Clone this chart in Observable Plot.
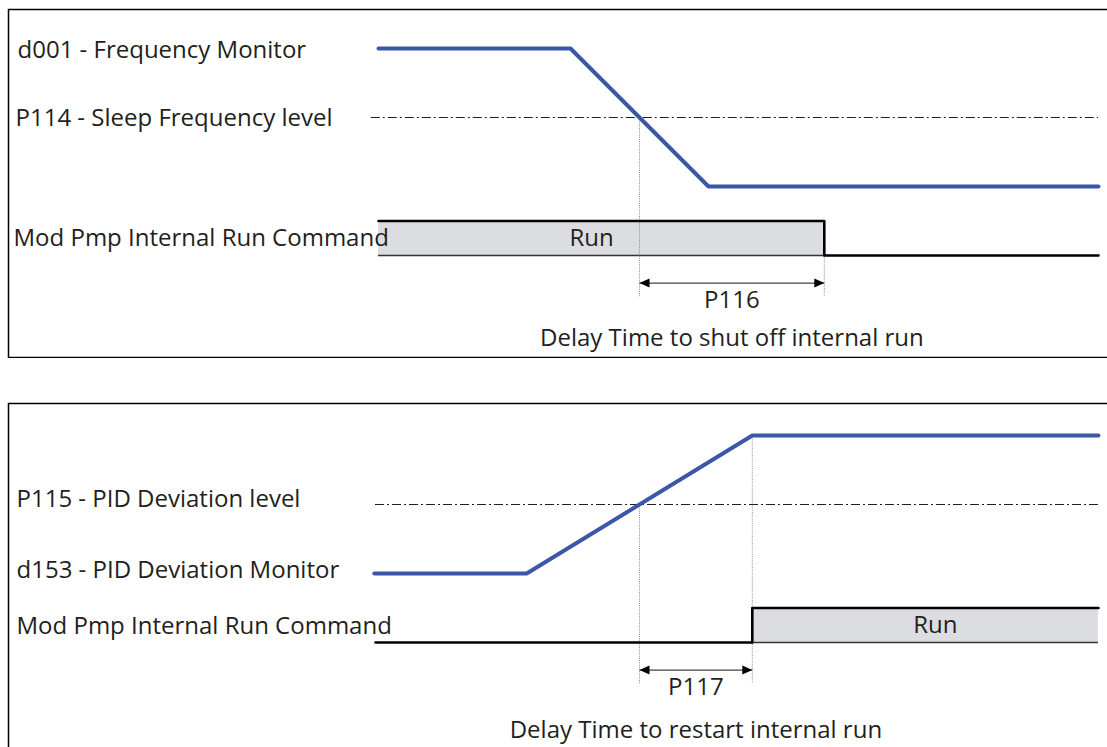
<!DOCTYPE html>
<html><head><meta charset="utf-8">
<script src="https://cdn.jsdelivr.net/npm/d3@7"></script>
<script src="https://cdn.jsdelivr.net/npm/@observablehq/plot@0.6"></script>
<style>
html,body{margin:0;padding:0;background:#fff;overflow:hidden;width:1107px;height:747px;}
#panelTop,#panelBottom{position:absolute;left:7px;}
#panelTop{top:8px;} #panelBottom{top:402px;}
svg{max-width:none !important;}
</style></head><body>
<div id="panelTop"></div><div id="panelBottom"></div>
<script>
// shared time axis (arbitrary time units)
const timeEnd = 120;
const runHigh = 10, runLow = 0;

// ---- Panel 1: sleep ----
const sleepLabels = ["d001 - Frequency Monitor", "P114 - Sleep Frequency level", "Mod Pmp Internal Run Command"];
const sleepLabelLevels = [60, 40, 5];
const freqTime = [0, 32, 55, 120];
const freqHz = [60, 60, 20, 20];
const sleepLevelHz = 40;
const sleepLevelStart = -1.2;
const sleepRunTime = [0, 74.3, 120];
const sleepRunLevel = [10, 0, 0];
const sleepRunBox = [0, 74.3];
const sleepCrossTime = 43.5;
const sleepEdgeTime = 74.3;
const sleepDim = "P116";
const sleepCaption = "Delay Time to shut off internal run";
const sleepRunTextTime = 35.5;

// ---- Panel 2: wake ----
const wakeLabels = ["P115 - PID Deviation level", "d153 - PID Deviation Monitor", "Mod Pmp Internal Run Command"];
const wakeLabelLevels = [40, 20, 5];
const pidTime = [-0.7, 24.7, 62.3, 120];
const pidPct = [20, 20, 60, 60];
const wakeLevelPct = 40;
const wakeLevelStart = -0.5;
const wakeRunTime = [-0.5, 62.3, 120];
const wakeRunLevel = [0, 10, 10];
const wakeRunBox = [62.3, 120];
const wakeCrossTime = 43.5;
const wakeEdgeTime = 62.3;
const wakeDim = "P117";
const wakeCaption = "Delay Time to restart internal run";
const wakeRunTextTime = 92.8;

const ink = "#231f20";
const blue = "#3b57a7";
const font = "'Open Sans', sans-serif";
const fs = 24;

const arrowHead = {draw(ctx) { ctx.moveTo(0, 0); ctx.lineTo(-10, -4.5); ctx.lineTo(-10, 4.5); ctx.closePath(); }};

function panel(o) {
  const sig = o.sigT.map((t, i) => ({t, v: o.sigV[i]}));
  const run = o.runT.map((t, i) => ({t, v: o.runV[i]}));
  const box = [{t1: o.box[0], t2: o.box[1], lo: runLow, hi: runHigh}];
  const mid = (o.cross + o.edge) / 2;
  const labelMarks = o.labels.map((s, i) => Plot.text([s], {frameAnchor: "left", y: o.labelV[i], dx: o.labelDx[i], dy: o.labelDy[i], text: d => d, fontSize: fs, fill: ink, textAnchor: "start", lineAnchor: "middle"}));
  return Plot.plot({
    width: 1115, height: o.height,
    margin: 0,
    style: {fontFamily: font, color: ink, background: "transparent"},
    x: {domain: [0, timeEnd], range: [371, 1091], axis: null},
    y: {domain: [0, 60], range: o.yRange, axis: null},
    marks: [
      Plot.frame({stroke: "#000", strokeWidth: 1.5, inset: 1}),
      Plot.rect(box, {x1: "t1", x2: "t2", y1: "lo", y2: "hi", fill: "#dcdde0"}),
      Plot.ruleY(box, {y: "lo", x1: "t1", x2: "t2", stroke: "#333", strokeWidth: 1.3}),
      Plot.ruleY([o.level], {x1: o.levelStart, x2: timeEnd, stroke: ink, strokeWidth: 1, strokeDasharray: "9,3,2,3"}),
      Plot.ruleX([{t: o.cross, a: o.level}, {t: o.edge, a: o.edgeFrom}], {x: "t", y1: "a", y2: -12, stroke: "#8a8a8a", strokeWidth: 1, strokeDasharray: "1,1.2"}),
      Plot.line(sig, {x: "t", y: "v", stroke: blue, strokeWidth: 4, strokeLinecap: "round", strokeLinejoin: "miter"}),
      Plot.line(run, {x: "t", y: "v", curve: "step-after", stroke: "#000", strokeWidth: 2.6}),
      Plot.link([{a: o.cross, b: o.edge}], {x1: "a", x2: "b", y1: -8, y2: -8, stroke: "#444", strokeWidth: 1.3}),
      Plot.dot([{t: o.cross, r: 180}, {t: o.edge, r: 0}], {x: "t", y: -8, rotate: "r", symbol: arrowHead, fill: "#000", stroke: "none", r: 5}),
      Plot.text([o.dim], {x: mid, y: -13, text: d => d, fontSize: fs, fill: ink, lineAnchor: "middle"}),
      Plot.text([o.caption], {x: mid, y: o.captionV, text: d => d, fontSize: fs, fill: ink, lineAnchor: "middle"}),
      Plot.text(["Run"], {x: o.runTextT, y: 5, text: d => d, fontSize: fs, fill: ink, lineAnchor: "middle"}),
      ...labelMarks
    ]
  });
}

const svgTop = panel({height: 350, yRange: [247, 40], sigT: freqTime, sigV: freqHz, runT: sleepRunTime, runV: sleepRunLevel,
  box: sleepRunBox, level: sleepLevelHz, levelStart: sleepLevelStart, cross: sleepCrossTime, edge: sleepEdgeTime, edgeFrom: runLow,
  dim: sleepDim, caption: sleepCaption, captionV: -24, runTextT: sleepRunTextTime,
  labels: sleepLabels, labelV: sleepLabelLevels, labelDy: [1.5, 1, 0.5], labelDx: [10, 8, 6]});
const svgBottom = panel({height: 360, yRange: [240, 33], sigT: pidTime, sigV: pidPct, runT: wakeRunTime, runV: wakeRunLevel,
  box: wakeRunBox, level: wakeLevelPct, levelStart: wakeLevelStart, cross: wakeCrossTime, edge: wakeEdgeTime, edgeFrom: 60,
  dim: wakeDim, caption: wakeCaption, captionV: -25.5, runTextT: wakeRunTextTime,
  labels: wakeLabels, labelV: wakeLabelLevels, labelDy: [-5, -3, 1], labelDx: [9, 9, 9]});
document.getElementById("panelTop").appendChild(svgTop);
document.getElementById("panelBottom").appendChild(svgBottom);
</script>
</body></html>
